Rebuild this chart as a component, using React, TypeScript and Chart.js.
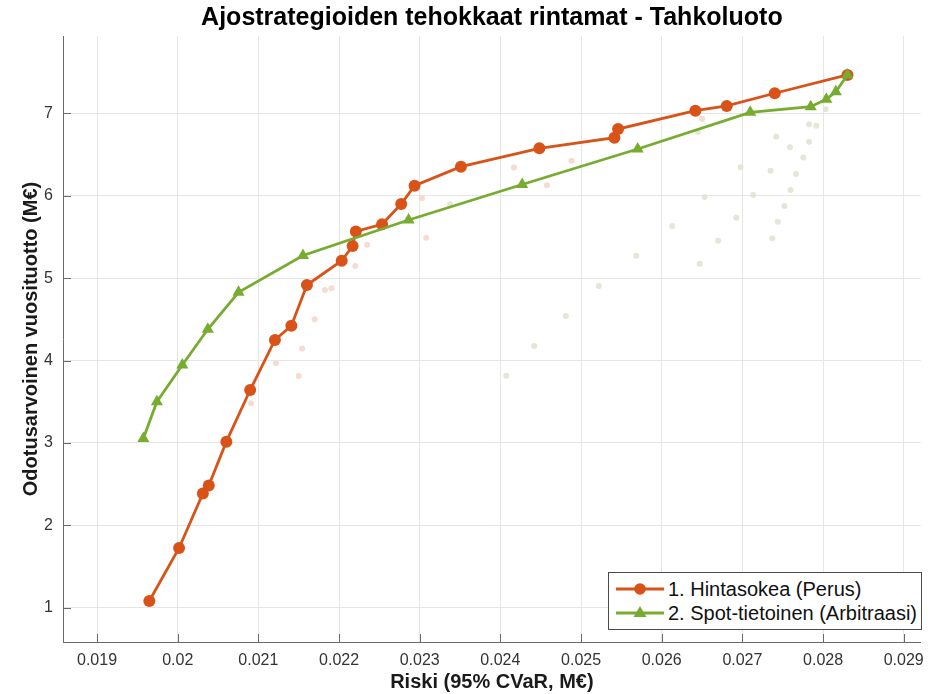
import React, { useEffect, useRef } from 'react';
import { Chart, registerables } from 'chart.js';

Chart.register(...registerables);

// ---- Data ----
const hintasokeaRisk = [
  0.019648, 0.020017, 0.020312, 0.020385, 0.020603, 0.020898, 0.021205, 0.021409,
  0.021602, 0.022033, 0.022168, 0.022208, 0.022533, 0.02277, 0.022936, 0.023511,
  0.024483, 0.025413, 0.025459, 0.026417, 0.026806, 0.027401, 0.028302,
];
const hintasokeaReturn = [
  1.081, 1.725, 2.386, 2.483, 3.015, 3.642, 4.249, 4.422,
  4.916, 5.211, 5.39, 5.566, 5.653, 5.899, 6.121, 6.352,
  6.575, 6.704, 6.809, 7.032, 7.089, 7.243, 7.465,
];

const spotRisk = [
  0.019574, 0.019742, 0.020057, 0.020373, 0.020754, 0.021553, 0.022862,
  0.02427, 0.025702, 0.027097, 0.027847, 0.02804, 0.028158, 0.028302,
];
const spotReturn = [
  3.053, 3.5, 3.945, 4.379, 4.828, 5.274, 5.705,
  6.136, 6.567, 7.012, 7.08, 7.17, 7.262, 7.465,
];

// dominated (non-frontier) strategies, drawn faintly
const hintasokeaOtherRisk = [
  0.023028, 0.023081, 0.022348, 0.022201, 0.021824, 0.021906, 0.021697, 0.021543,
  0.021218, 0.0215, 0.02091, 0.024168, 0.024577, 0.024881, 0.026501,
];
const hintasokeaOtherReturn = [
  5.968, 5.49, 5.405, 5.147, 4.856, 4.876, 4.501, 4.146,
  3.966, 3.812, 3.481, 6.342, 6.126, 6.425, 6.934,
];

const spotOtherRisk = [
  0.023376, 0.024073, 0.02442, 0.024811, 0.02522, 0.025684, 0.02613, 0.02647,
  0.026532, 0.0267, 0.026925, 0.026978, 0.027134, 0.027349, 0.02742, 0.027371,
  0.027439, 0.027521, 0.027597, 0.027665, 0.027755, 0.027589, 0.027826, 0.027826,
  0.027915, 0.028031, 0.026448,
];
const spotOtherReturn = [
  5.897, 3.816, 4.176, 4.54, 4.904, 5.271, 5.632, 5.175,
  5.984, 5.454, 5.733, 6.346, 6.009, 6.303, 6.716, 5.484,
  5.683, 5.875, 6.069, 6.263, 6.464, 6.587, 6.655, 6.867,
  6.85, 7.049, 6.777,
];

const xTicks = [0.019, 0.02, 0.021, 0.022, 0.023, 0.024, 0.025, 0.026, 0.027, 0.028, 0.029];
const yTicks = [1, 2, 3, 4, 5, 6, 7];

const seriesLabels = ['1. Hintasokea (Perus)', '2. Spot-tietoinen (Arbitraasi)'];
const titleText = 'Ajostrategioiden tehokkaat rintamat - Tahkoluoto';
const xTitle = 'Riski (95% CVaR, M€)';
const yTitle = 'Odotusarvoinen vuosituotto (M€)';

// ---- Styles ----
const RED = '#D95319';
const GREEN = '#77AC30';
const RED_FAINT = '#f5dbd0';
const GREEN_FAINT = '#e3e7d8';
const AXIS = '#6a6a6a';
const GRID = '#e6e6e6';
const FONT = "'Liberation Sans', Arial, Helvetica, sans-serif";

const W = 933;
const H = 694;

const toPoints = (xs: number[], ys: number[]) => xs.map((x, i) => ({ x, y: ys[i] }));

const innerTicks = {
  id: 'innerTicks',
  beforeDatasetsDraw(chart: any) {
    const { ctx, chartArea, scales } = chart;
    ctx.save();
    ctx.strokeStyle = AXIS;
    ctx.lineWidth = 1;
    xTicks.forEach((v) => {
      const px = Math.round(scales.x.getPixelForValue(v)) + 0.5;
      ctx.beginPath();
      ctx.moveTo(px, chartArea.bottom);
      ctx.lineTo(px, chartArea.bottom - 8);
      ctx.stroke();
    });
    yTicks.forEach((v) => {
      const py = Math.round(scales.y.getPixelForValue(v)) + 0.5;
      ctx.beginPath();
      ctx.moveTo(chartArea.left, py);
      ctx.lineTo(chartArea.left + 8, py);
      ctx.stroke();
    });
    ctx.restore();
  },
};

function LegendMarker({ kind, color }: { kind: 'circle' | 'triangle'; color: string }) {
  return (
    <svg width={50} height={20} style={{ position: 'absolute', left: 6, top: -10 }}>
      <line x1={1} y1={10} x2={49} y2={10} stroke={color} strokeWidth={2.8} />
      {kind === 'circle' ? (
        <circle cx={25} cy={10} r={5.8} fill={color} />
      ) : (
        <polygon points="25,3 31.5,14 18.5,14" fill={color} />
      )}
    </svg>
  );
}

export default function App() {
  const canvasRef = useRef<HTMLCanvasElement | null>(null);

  useEffect(() => {
    if (!canvasRef.current) return;
    const chart = new Chart(canvasRef.current, {
      type: 'scatter',
      data: {
        datasets: [
          {
            label: seriesLabels[1],
            data: toPoints(spotRisk, spotReturn),
            showLine: true,
            borderColor: GREEN,
            backgroundColor: GREEN,
            borderWidth: 2.8,
            pointStyle: 'triangle',
            pointRadius: 7,
            pointBorderWidth: 0,
          },
          {
            label: seriesLabels[0],
            data: toPoints(hintasokeaRisk, hintasokeaReturn),
            showLine: true,
            borderColor: RED,
            backgroundColor: RED,
            borderWidth: 2.8,
            pointStyle: 'circle',
            pointRadius: 6,
            pointBorderWidth: 0,
          },
          {
            label: 'Hintasokea (muut)',
            data: toPoints(hintasokeaOtherRisk, hintasokeaOtherReturn),
            showLine: false,
            backgroundColor: RED_FAINT,
            borderColor: RED_FAINT,
            pointRadius: 3,
            pointBorderWidth: 0,
          },
          {
            label: 'Spot-tietoinen (muut)',
            data: toPoints(spotOtherRisk, spotOtherReturn),
            showLine: false,
            backgroundColor: GREEN_FAINT,
            borderColor: GREEN_FAINT,
            pointRadius: 3,
            pointBorderWidth: 0,
          },
        ],
      },
      options: {
        animation: false,
        responsive: false,
        devicePixelRatio: 1,
        events: [],
        layout: { padding: { left: 0, right: 5, top: 0, bottom: 0 } },
        plugins: {
          legend: { display: false },
          tooltip: { enabled: false },
          title: {
            display: true,
            text: titleText,
            fullSize: false,
            color: '#000',
            font: { family: FONT, size: 25, weight: 'bold', lineHeight: 1.2 },
            padding: { top: 3, bottom: 3 },
          },
        },
        scales: {
          x: {
            type: 'linear',
            min: 0.018578,
            max: 0.029211,
            afterFit: (scale: any) => {
              scale.height = 52;
            },
            afterBuildTicks: (scale: any) => {
              scale.ticks = xTicks.map((v) => ({ value: v }));
            },
            ticks: {
              color: '#333',
              font: { family: FONT, size: 16 },
              padding: 9,
              maxRotation: 0,
              autoSkip: false,
              callback: (v: any) => String(Number(Number(v).toFixed(4))),
            },
            grid: { color: GRID, drawTicks: false, lineWidth: 1 },
            border: { display: true, color: AXIS, width: 1 },
            title: {
              display: true,
              text: xTitle,
              color: '#1a1a1a',
              font: { family: FONT, size: 20, weight: 'bold', lineHeight: 1.2 },
              padding: { top: 0, bottom: 0 },
            },
          },
          y: {
            type: 'linear',
            min: 0.584,
            max: 7.938,
            afterFit: (scale: any) => {
              scale.width = 63;
            },
            afterBuildTicks: (scale: any) => {
              scale.ticks = yTicks.map((v) => ({ value: v }));
            },
            ticks: {
              color: '#333',
              font: { family: FONT, size: 16 },
              padding: 10,
              autoSkip: false,
              callback: (v: any) => String(v),
            },
            grid: { color: GRID, drawTicks: false, lineWidth: 1 },
            border: { display: true, color: AXIS, width: 1 },
            title: {
              display: true,
              text: yTitle,
              color: '#1a1a1a',
              font: { family: FONT, size: 20, weight: 'bold', lineHeight: 1.2 },
              padding: { top: 19, bottom: 0 },
            },
          },
        },
      } as any,
      plugins: [innerTicks],
    });
    return () => chart.destroy();
  }, []);

  return (
    <div style={{ position: 'absolute', left: 0, top: 0, width: W, height: H, background: '#fff' }}>
      <canvas ref={canvasRef} width={W} height={H} style={{ display: 'block', width: W, height: H }} />
      <div
        style={{
          position: 'absolute',
          left: 608,
          top: 572,
          width: 314,
          height: 58,
          boxSizing: 'border-box',
          border: '1px solid #4a4a4a',
          background: '#fff',
          fontFamily: FONT,
          fontSize: 20,
          color: '#111',
        }}
      >
        {seriesLabels.map((label, i) => (
          <div key={label} style={{ position: 'absolute', left: 0, top: 16 + 24 * i, width: '100%', height: 0 }}>
            <LegendMarker kind={i === 0 ? 'circle' : 'triangle'} color={i === 0 ? RED : GREEN} />
            <div style={{ position: 'absolute', left: 59, top: -12, lineHeight: '24px', whiteSpace: 'nowrap' }}>
              {label}
            </div>
          </div>
        ))}
      </div>
    </div>
  );
}
